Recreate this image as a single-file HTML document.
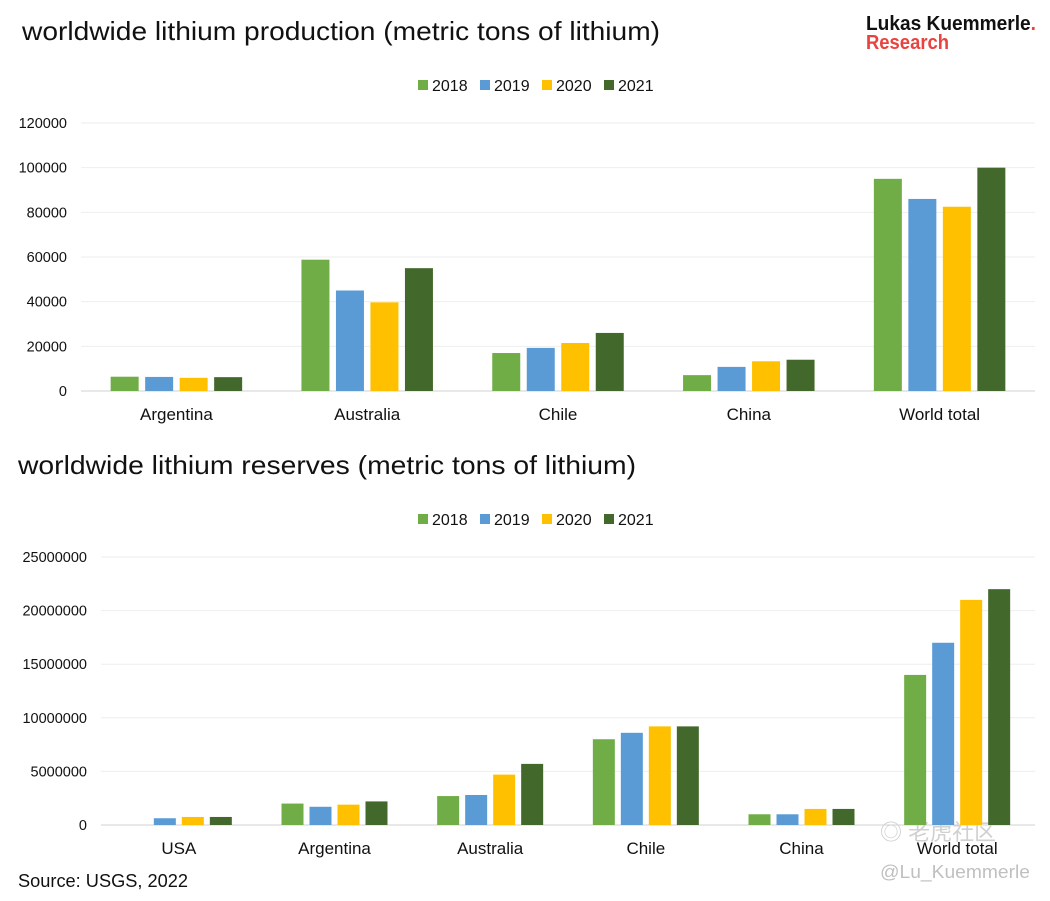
<!DOCTYPE html>
<html><head><meta charset="utf-8"><style>
body{margin:0;background:#fff;width:1050px;height:896px;overflow:hidden;font-family:"Liberation Sans",sans-serif;}
svg text{font-family:"Liberation Sans","Noto Sans CJK SC",sans-serif;}
</style></head><body>
<svg id="s" width="1050" height="896" xmlns="http://www.w3.org/2000/svg">
<text x="22" y="40" font-size="26" fill="#111" textLength="638" lengthAdjust="spacingAndGlyphs">worldwide lithium production (metric tons of lithium)</text>
<text x="18" y="474" font-size="26" fill="#111" textLength="618" lengthAdjust="spacingAndGlyphs">worldwide lithium reserves (metric tons of lithium)</text>
<text x="866" y="30" font-size="20" font-weight="bold" fill="#111" textLength="170" lengthAdjust="spacingAndGlyphs">Lukas Kuemmerle<tspan fill="#e8433f">.</tspan></text>
<text x="866" y="49" font-size="20" font-weight="bold" fill="#e8433f" textLength="83" lengthAdjust="spacingAndGlyphs">Research</text>
<text x="18" y="887" font-size="18" fill="#111" textLength="170" lengthAdjust="spacingAndGlyphs">Source: USGS, 2022</text>
<text x="880" y="840" font-size="22" fill="#d0d0d0">◎ 老虎社区</text>
<text x="880" y="878" font-size="18" fill="#c0c0c0" textLength="150" lengthAdjust="spacingAndGlyphs">@Lu_Kuemmerle</text>
</svg>
<script>
const years=["2018","2019","2020","2021"];
const colors=["#70ad47","#5b9bd5","#ffc000","#43682b"];
const prodCats=["Argentina","Australia","Chile","China","World total"];
const prod2018=[6400,58800,17000,7100,95000];
const prod2019=[6300,45000,19300,10800,86000];
const prod2020=[5900,39700,21500,13300,82500];
const prod2021=[6200,55000,26000,14000,100000];
const prodTicks=[0,20000,40000,60000,80000,100000,120000];
const resCats=["USA","Argentina","Australia","Chile","China","World total"];
const res2018=[0,2000000,2700000,8000000,1000000,14000000];
const res2019=[630000,1700000,2800000,8600000,1000000,17000000];
const res2020=[750000,1900000,4700000,9200000,1500000,21000000];
const res2021=[750000,2200000,5700000,9200000,1500000,22000000];
const resTicks=[0,5000000,10000000,15000000,20000000,25000000];
const svg=document.getElementById('s');
const NS="http://www.w3.org/2000/svg";
function mk(t,a){const e=document.createElementNS(NS,t);for(const k in a)e.setAttribute(k,a[k]);svg.appendChild(e);return e;}
function chart(cfg){
  const {x0,x1,y0,yTop,max,cats,series,ticks,bw,step,legendY,prefix}=cfg;
  const ys=v=>y0-(v/max)*(y0-yTop);
  const cw=(x1-x0)/cats.length;
  ticks.forEach(t=>{
    const g=mk('line',{x1:x0,x2:x1,y1:ys(t),y2:ys(t),stroke:t===0?'#d0d0d0':'#eeeeee','stroke-width':1});
    
    
    const l=mk('text',{x:x0-14,y:ys(t)+5,'font-size':14.5,'text-anchor':'end',fill:'#111'});
    l.textContent=t;
    
    
  });
  cats.forEach((c,i)=>{
    const cx=x0+cw*(i+0.5);
    series.forEach((s,j)=>{
      const v=s[i];
      const bx=cx-(step*1.5)-bw/2+j*step;
      const r=mk('rect',{x:bx,y:ys(v),width:bw,height:y0-ys(v),fill:colors[j]});
      
      
    });
    const t=mk('text',{x:cx,y:y0+29,'font-size':17,'text-anchor':'middle',fill:'#111'});
    t.textContent=c;
    
    
  });
  let lx=418;
  years.forEach((y,j)=>{
    const r=mk('rect',{x:lx,y:legendY-11,width:10,height:10,fill:colors[j]});
    
    
    const t=mk('text',{x:lx+14,y:legendY,'font-size':16,fill:'#111'});
    t.textContent=y;
    
    
    lx+=62;
  });
}
chart({x0:81,x1:1035,y0:391,yTop:123,max:120000,cats:prodCats,series:[prod2018,prod2019,prod2020,prod2021],ticks:prodTicks,bw:28,step:34.5,legendY:91,prefix:'production-'});
chart({x0:101,x1:1035,y0:825,yTop:557,max:25000000,cats:resCats,series:[res2018,res2019,res2020,res2021],ticks:resTicks,bw:22,step:28,legendY:525,prefix:'reserves-'});
</script>
</body></html>
